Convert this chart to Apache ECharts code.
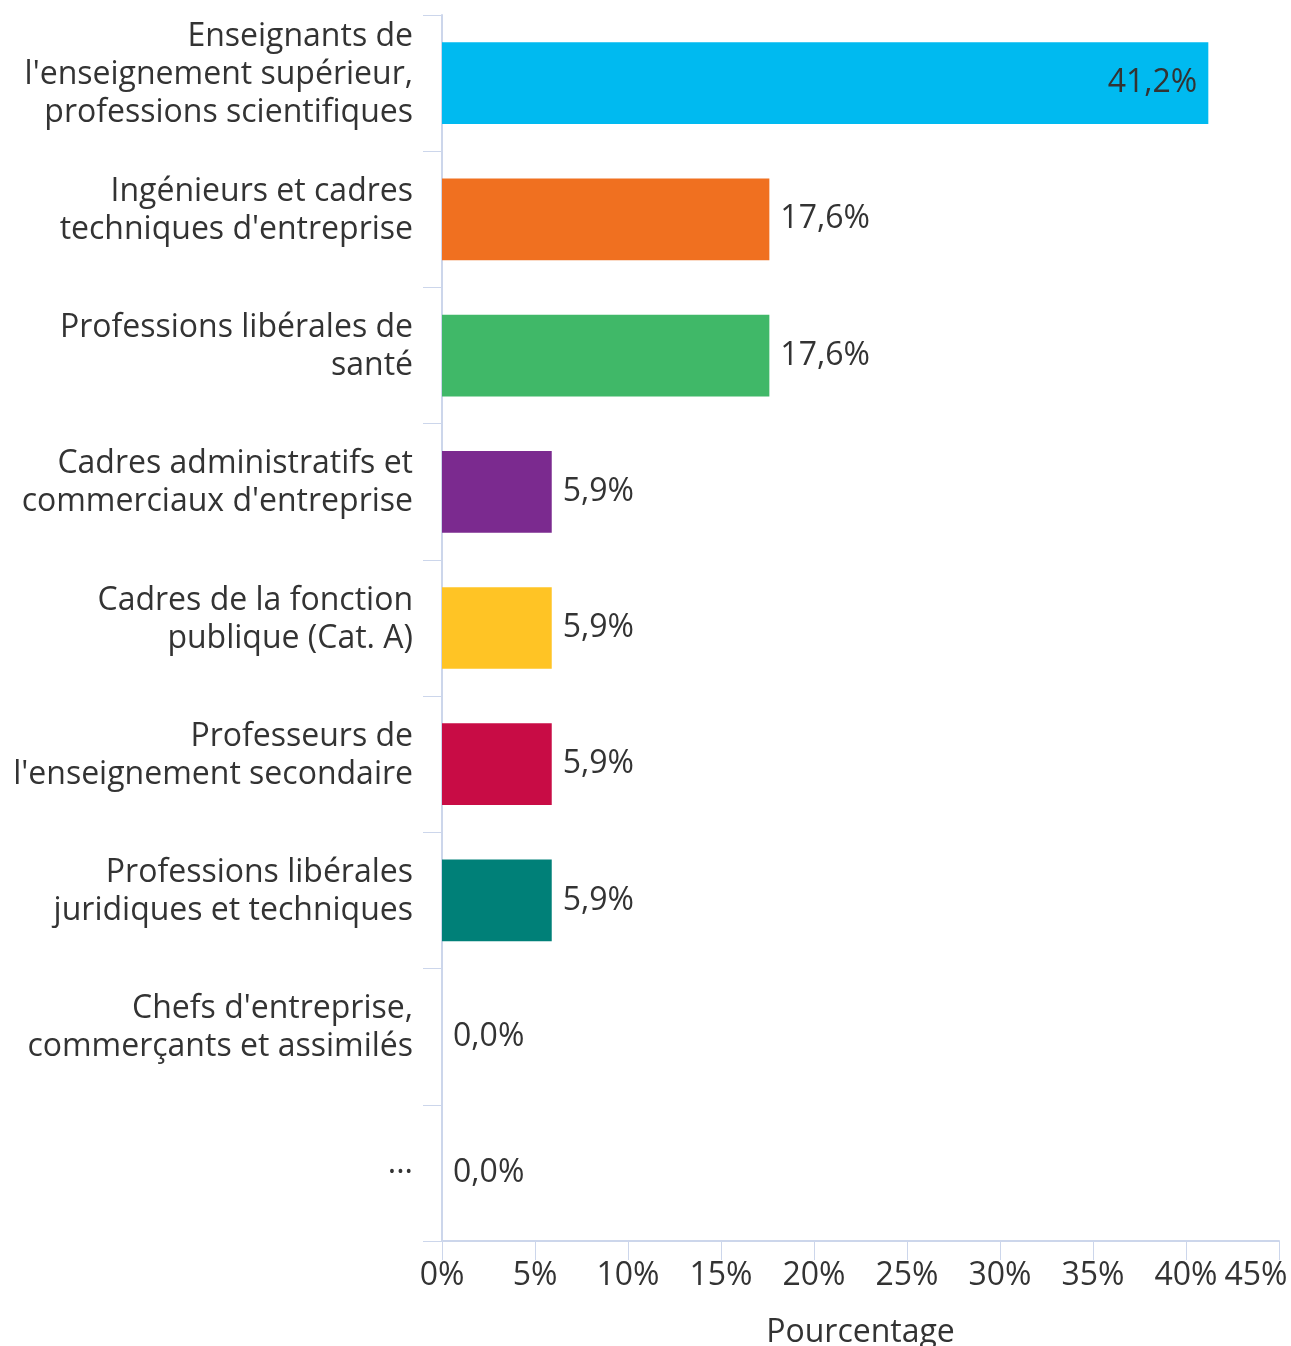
<!DOCTYPE html>
<html>
<head>
<meta charset="utf-8">
<script src="https://cdn.jsdelivr.net/npm/echarts@6/dist/echarts.min.js"></script>
<style>
html,body{margin:0;padding:0;background:#fff;}
#chart{width:1291px;height:1346px;}
</style>
</head>
<body>
<div id="chart"></div>
<script>
const categories = [
  "Enseignants de\nl'enseignement supérieur,\nprofessions scientifiques",
  "Ingénieurs et cadres\ntechniques d'entreprise",
  "Professions libérales de\nsanté",
  "Cadres administratifs et\ncommerciaux d'entreprise",
  "Cadres de la fonction\npublique (Cat. A)",
  "Professeurs de\nl'enseignement secondaire",
  "Professions libérales\njuridiques et techniques",
  "Chefs d'entreprise,\ncommerçants et assimilés",
  "..."
];
const values = [41.2, 17.6, 17.6, 5.9, 5.9, 5.9, 5.9, 0.0, 0.0];
const barColors = ["#00BAF0", "#F07020", "#40B868", "#7B2A8F", "#FFC425", "#C80C45", "#008078", "#888888", "#888888"];
const xTicks = [0, 5, 10, 15, 20, 25, 30, 35, 40, 45];

const FONT = "'Open Sans', 'Noto Sans', sans-serif";
const AXIS_COLOR = "#ccd6eb";
const TEXT_COLOR = "#333333";
const FS = 32;

const fmt = v => v.toFixed(1).replace('.', ',') + '%';

const seriesData = values.map((v, i) => ({
  value: v,
  itemStyle: { color: barColors[i] },
  label: i === 0 ? { position: 'insideRight', distance: 11 } : {}
}));

const maxTick = xTicks[xTicks.length - 1];

const chart = echarts.init(document.getElementById('chart'), null, { renderer: 'canvas' });
chart.setOption({
  animation: false,
  backgroundColor: '#ffffff',
  grid: { left: 442, right: 12, top: 15, bottom: 105, containLabel: false, outerBoundsMode: 'none' },
  xAxis: {
    type: 'value',
    min: xTicks[0],
    max: maxTick,
    interval: 5,
    name: 'Pourcentage',
    nameLocation: 'middle',
    nameGap: 76,
    nameTextStyle: { fontFamily: FONT, fontSize: FS, color: TEXT_COLOR },
    axisLine: { show: true, lineStyle: { color: AXIS_COLOR, width: 2 } },
    axisTick: { show: true, length: 19, lineStyle: { color: AXIS_COLOR, width: 1 } },
    splitLine: { show: false },
    axisLabel: {
      fontFamily: FONT, fontSize: FS, color: TEXT_COLOR, margin: 19,
      showMaxLabel: true, showMinLabel: true, hideOverlap: false,
      formatter: v => v === maxTick ? '{m|' + v + '%}' : v + '%',
      rich: {
        m: { fontFamily: FONT, fontSize: FS, color: TEXT_COLOR, padding: [0, 46, 0, 0] }
      }
    }
  },
  yAxis: {
    type: 'category',
    inverse: true,
    data: categories,
    axisLine: { show: true, lineStyle: { color: AXIS_COLOR, width: 2 } },
    axisTick: { show: true, length: 19, alignWithLabel: false, lineStyle: { color: AXIS_COLOR, width: 1 } },
    axisLabel: {
      fontFamily: FONT, fontSize: FS, color: TEXT_COLOR, margin: 29,
      lineHeight: 38, align: 'right',
      formatter: v => v.split('\n').map(s => '{t|' + s + '}').join('\n') + '\n{s|}',
      rich: {
        t: { fontFamily: FONT, fontSize: FS, color: TEXT_COLOR, lineHeight: 38, align: 'right' },
        s: { fontSize: 1, lineHeight: 17, height: 17 }
      }
    }
  },
  series: [{
    type: 'bar',
    data: seriesData,
    barCategoryGap: '40%',
    label: {
      show: true,
      position: 'right',
      distance: 11,
      fontFamily: FONT,
      fontSize: FS,
      color: TEXT_COLOR,
      formatter: p => fmt(p.value)
    }
  }]
});
</script>
</body>
</html>
